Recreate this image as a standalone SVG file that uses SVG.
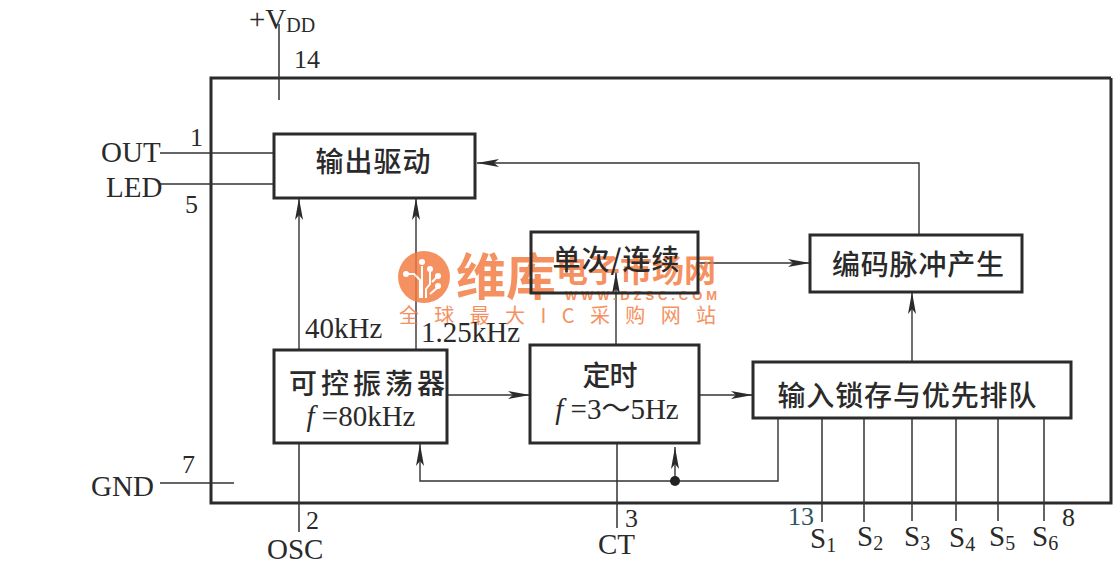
<svg xmlns="http://www.w3.org/2000/svg" width="1113" height="572" viewBox="0 0 1113 572">
<style>
.b{fill:none;stroke:#2b2b2b;stroke-width:3}
.w{fill:none;stroke:#333;stroke-width:1.5}
.a{fill:none;stroke:#333;stroke-width:1.4;marker-end:url(#ah)}
text{font-family:"Liberation Serif","Noto Sans CJK SC",serif;fill:#2a2a2a}
.l{font-size:29px}
.n{font-size:29px}
.d{font-size:26px}
.c{font-family:"Noto Sans CJK SC","Liberation Serif",serif;font-size:28px;font-weight:500;text-anchor:middle}
.m{font-size:29px;text-anchor:middle}
.s{font-size:20px}
.o{fill:#f47a3e;font-family:"Noto Sans CJK SC",sans-serif}
.t{fill:none;stroke:#fff;stroke-width:2}
</style>
<defs><marker id="ah" markerUnits="userSpaceOnUse" markerWidth="24" markerHeight="12" refX="22" refY="6" orient="auto"><path d="M0 2L22 6L0 10L5 6Z" fill="#2b2b2b"/></marker></defs>
<rect width="1113" height="572" fill="#fff"/>
<g id="chip"><path class="b" d="M1111 78H211V503H1111V78"/></g>
<g id="connectors">
<path class="w" d="M279 24V100M160 153H274M160 184H274M160 483H234M299 443V532M617 443V528M822 418V522M864 418V522M912 418V521M956 418V521M998 418V521M1044 418V521"/>
<path class="a" d="M299 350V198"/>
<path class="a" d="M416 350V198"/>
<path class="a" d="M919 235V163H477"/>
<path class="a" d="M698 263H810"/>
<path class="a" d="M616 345V272"/>
<path class="a" d="M912 361V292"/>
<path class="a" d="M447 395H530"/>
<path class="a" d="M699 395H753"/>
<path class="a" d="M778 418V481H420V444"/>
<path class="a" d="M675 481V447"/>
<circle cx="675" cy="481" r="5" fill="#222"/>
</g>
<g id="watermark" opacity=".82">
<circle cx="424" cy="277" r="26" fill="#f47a3e"/>
<path class="t" d="M405 274H414L420 280V298M422 266V298M430 272V284L426 289V298M437 277L432 282M437 288L430 294"/>
<circle cx="422" cy="262" r="3" fill="#fff"/><circle cx="430" cy="269" r="3" fill="#fff"/><circle cx="438" cy="276" r="3" fill="#fff"/><circle cx="438" cy="286" r="3" fill="#fff"/><circle cx="406" cy="274" r="3" fill="#fff"/>
<text class="o" x="456" y="295" font-size="50" font-weight="700">维库</text>
<text class="o" x="556" y="282" font-size="32" font-weight="700" textLength="160">电子市场网</text>
<text class="o" x="565" y="300" font-size="13" font-weight="700" textLength="152" style="font-family:'Liberation Sans',sans-serif">WWW.DZSC.COM</text>
<text class="o" x="399" y="323" font-size="20" textLength="317">全球最大IC采购网站</text>
</g>
<g id="n1"><rect class="b" x="274" y="134" width="201" height="64" fill="#fff"/><text class="c" x="373" y="172" textLength="115">输出驱动</text></g>
<g id="n2"><rect class="b" x="531" y="232" width="167" height="61"/><text class="c" x="616" y="270" textLength="127">单次/连续</text></g>
<g id="n3"><rect class="b" x="810" y="235" width="212" height="57" fill="#fff"/><text class="c" x="918" y="275" textLength="172">编码脉冲产生</text></g>
<g id="n4"><rect class="b" x="274" y="350" width="173" height="93" fill="#fff"/><text class="c" x="367" y="394" textLength="156">可控振荡器</text><text class="m" x="361" y="426"><tspan font-style="italic">f</tspan> =80kHz</text></g>
<g id="n5"><rect class="b" x="530" y="345" width="169" height="98" fill="#fff"/><text class="c" x="610" y="386" textLength="55">定时</text><text class="m" x="617" y="419"><tspan font-style="italic">f</tspan> =3～5Hz</text></g>
<g id="n6"><rect class="b" x="753" y="362" width="318" height="56" fill="#fff"/><text class="c" x="907" y="406" textLength="259">输入锁存与优先排队</text></g>
<g id="labels">
<text class="l" x="249" y="29">+V<tspan class="s" dy="3">DD</tspan></text>
<text class="d" x="294" y="68">14</text>
<text class="d" x="190" y="146">1</text>
<text class="l" x="101" y="162">OUT</text>
<text class="l" x="106" y="197">LED</text>
<text class="d" x="185" y="213">5</text>
<text class="d" x="182" y="473">7</text>
<text class="l" x="91" y="496">GND</text>
<text class="n" x="305" y="338">40kHz</text>
<text class="n" x="421" y="342">1.25kHz</text>
<text class="d" x="306" y="529">2</text>
<text class="l" x="267" y="559">OSC</text>
<text class="d" x="625" y="527">3</text>
<text class="l" x="598" y="554">CT</text>
<text class="d" x="788" y="525" style="fill:#2c5560">13</text>
<text class="l" x="810" y="548">S<tspan class="s" dy="4">1</tspan></text>
<text class="l" x="857" y="546">S<tspan class="s" dy="4">2</tspan></text>
<text class="l" x="904" y="546">S<tspan class="s" dy="4">3</tspan></text>
<text class="l" x="949" y="547">S<tspan class="s" dy="4">4</tspan></text>
<text class="l" x="989" y="546">S<tspan class="s" dy="4">5</tspan></text>
<text class="l" x="1032" y="546">S<tspan class="s" dy="4">6</tspan></text>
<text class="d" x="1062" y="526">8</text>
</g>
</svg>
